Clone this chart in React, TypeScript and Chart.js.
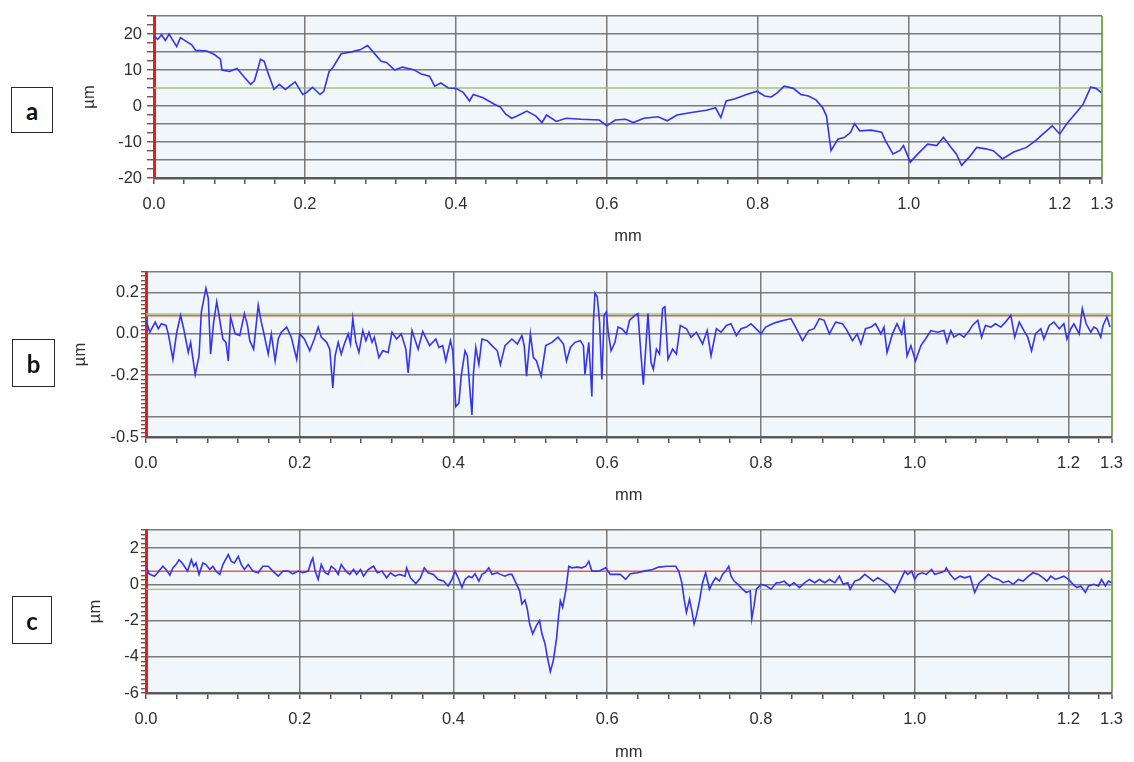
import React, { useEffect, useRef } from "react";
import { Chart, registerables } from "chart.js";

Chart.register(...registerables);

// ---------- data ----------
const X_MAX = 1.256;
const X_END_LABEL = "1.3";
const X_MINOR_STEP = 0.04;
const X_MAJOR_STEP = 0.2;

// panel a  (x mm, height µm)
const PROFILE_A: [number, number][] = [
  [0, 19.5], [0.005, 18.5], [0.01, 19.8], [0.015, 18.2], [0.02, 20.0], [0.03, 16.5], [0.035, 19.0], [0.05, 17.0],
  [0.055, 15.5], [0.07, 15.3], [0.08, 14.3], [0.088, 13.0], [0.09, 10.0], [0.1, 9.6], [0.11, 10.4], [0.12, 7.9],
  [0.128, 6.0], [0.133, 7.0], [0.138, 10.6], [0.141, 13.0], [0.146, 12.4], [0.151, 9.2], [0.159, 4.6], [0.166, 6.0],
  [0.174, 4.6], [0.187, 6.7], [0.197, 3.2], [0.202, 3.7], [0.21, 5.2], [0.22, 3.2], [0.225, 4.1], [0.232, 9.6],
  [0.237, 10.7], [0.248, 14.5], [0.263, 15.1], [0.273, 15.6], [0.283, 16.8], [0.29, 15.1], [0.301, 12.4], [0.308, 12.1],
  [0.319, 10.0], [0.329, 10.8], [0.344, 10.1], [0.354, 8.9], [0.365, 8.3], [0.372, 5.5], [0.38, 6.4], [0.39, 5.0],
  [0.4, 4.9], [0.41, 3.7], [0.418, 1.4], [0.423, 3.2], [0.436, 2.3], [0.451, 0.5], [0.459, -0.3], [0.466, -2.3],
  [0.474, -3.4], [0.481, -2.8], [0.494, -1.4], [0.506, -2.8], [0.514, -4.6], [0.52, -2.5], [0.533, -4.3], [0.546, -3.4],
  [0.566, -3.7], [0.59, -3.9], [0.6, -5.5], [0.611, -3.9], [0.625, -3.7], [0.635, -4.6], [0.649, -3.4], [0.668, -3.0],
  [0.68, -4.1], [0.693, -2.5], [0.712, -1.8], [0.732, -1.2], [0.744, -0.5], [0.751, -3.2], [0.758, 1.4], [0.77, 2.0],
  [0.785, 3.2], [0.799, 4.1], [0.809, 2.8], [0.818, 2.5], [0.826, 3.7], [0.835, 5.5], [0.847, 4.9], [0.857, 3.2],
  [0.867, 2.8], [0.877, 1.7], [0.886, -0.5], [0.891, -2.8], [0.897, -12.4], [0.906, -9.2], [0.915, -8.7], [0.923, -7.3],
  [0.928, -4.9], [0.935, -6.9], [0.95, -6.7], [0.964, -7.3], [0.969, -9.6], [0.979, -13.3], [0.988, -12.4], [0.993, -11.0],
  [1.002, -15.6], [1.012, -13.3], [1.025, -10.6], [1.037, -11.0], [1.046, -8.7], [1.056, -11.5], [1.063, -13.3], [1.07, -16.5],
  [1.08, -14.2], [1.09, -11.5], [1.102, -11.9], [1.112, -12.4], [1.124, -14.7], [1.139, -12.8], [1.156, -11.5], [1.168, -9.6],
  [1.19, -5.5], [1.2, -7.8], [1.209, -5.0], [1.222, -1.8], [1.231, 0.5], [1.241, 5.2], [1.248, 4.9], [1.255, 3.7],
];
const A_Y_MIN = -20;
const A_Y_MAX = 25;
const A_Y_MINOR = 2.5;
const A_Y_LABELS = [20, 10, 0, -10, -20];
const A_Y_GRID = [25, 20, 15, 10, 0, -5, -10, -15];
const A_GREEN = 5;

// panel b
const PROFILE_B: [number, number][] = [
  [0, 0.066], [0.005, 0.008], [0.012, 0.057], [0.016, 0.025], [0.02, 0.049], [0.026, 0.041], [0.029, 0], [0.035, -0.123],
  [0.04, 0.008], [0.045, 0.09], [0.049, 0.025], [0.055, -0.09], [0.058, -0.041], [0.064, -0.197], [0.069, -0.107], [0.072, 0.107],
  [0.078, 0.221], [0.081, 0.172], [0.084, -0.098], [0.088, 0.057], [0.092, 0.156], [0.095, 0.09], [0.1, -0.025], [0.104, -0.041],
  [0.107, -0.131], [0.11, 0.082], [0.116, 0], [0.122, -0.008], [0.128, 0.098], [0.132, 0.041], [0.135, -0.033], [0.14, -0.074],
  [0.146, 0.139], [0.15, 0.057], [0.153, 0.008], [0.159, -0.098], [0.163, 0], [0.168, -0.131], [0.172, -0.025], [0.176, 0.008],
  [0.183, 0.033], [0.189, -0.016], [0.196, -0.123], [0.2, 0], [0.206, -0.025], [0.213, -0.082], [0.219, -0.025], [0.224, 0.033],
  [0.228, -0.016], [0.235, -0.041], [0.239, -0.074], [0.243, -0.262], [0.246, -0.107], [0.25, -0.041], [0.254, -0.098], [0.258, -0.049],
  [0.263, 0], [0.266, -0.049], [0.269, 0.074], [0.273, -0.041], [0.277, -0.09], [0.282, 0.016], [0.286, -0.033], [0.29, 0.008],
  [0.294, -0.041], [0.297, -0.016], [0.303, -0.115], [0.308, -0.082], [0.315, -0.09], [0.32, 0.008], [0.326, -0.025], [0.332, 0],
  [0.338, -0.074], [0.341, -0.189], [0.346, 0.016], [0.354, -0.074], [0.36, 0.011], [0.369, -0.057], [0.377, -0.025], [0.381, -0.066],
  [0.386, -0.057], [0.39, -0.131], [0.396, -0.033], [0.399, -0.082], [0.403, -0.352], [0.407, -0.336], [0.41, -0.205], [0.415, -0.082],
  [0.418, -0.107], [0.422, -0.303], [0.424, -0.393], [0.426, -0.189], [0.429, -0.066], [0.433, -0.148], [0.437, -0.025], [0.444, -0.033],
  [0.45, -0.057], [0.457, -0.082], [0.461, -0.148], [0.467, -0.057], [0.476, -0.025], [0.483, -0.049], [0.489, -0.008], [0.492, -0.057],
  [0.495, -0.205], [0.5, 0], [0.504, -0.115], [0.508, -0.131], [0.514, -0.205], [0.52, -0.057], [0.528, -0.041], [0.536, -0.016],
  [0.543, -0.049], [0.547, -0.131], [0.552, -0.066], [0.558, -0.041], [0.565, -0.033], [0.569, -0.057], [0.571, -0.197], [0.576, -0.041],
  [0.58, -0.303], [0.582, 0.057], [0.584, 0.197], [0.587, 0.18], [0.59, 0.057], [0.593, -0.221], [0.596, 0.09], [0.599, 0.107],
  [0.601, 0.016], [0.605, -0.082], [0.61, -0.041], [0.614, 0.033], [0.619, 0.025], [0.625, 0], [0.629, 0.066], [0.636, 0.09],
  [0.64, 0.098], [0.644, -0.107], [0.647, -0.246], [0.65, -0.074], [0.653, 0.098], [0.657, -0.139], [0.66, -0.172], [0.664, -0.074],
  [0.668, -0.098], [0.672, 0.123], [0.675, 0.131], [0.679, -0.123], [0.685, -0.074], [0.69, -0.098], [0.695, 0.041], [0.703, 0.025],
  [0.709, -0.016], [0.716, 0.008], [0.724, -0.049], [0.73, 0.016], [0.735, -0.107], [0.742, 0.025], [0.748, 0.008], [0.755, 0.041],
  [0.761, 0.049], [0.768, -0.008], [0.774, 0.025], [0.781, 0.033], [0.787, 0.049], [0.796, 0.016], [0.8, 0], [0.806, 0.033],
  [0.815, 0.049], [0.821, 0.057], [0.83, 0.066], [0.839, 0.074], [0.845, 0.033], [0.854, -0.033], [0.862, 0.016], [0.869, 0.025],
  [0.876, 0.074], [0.882, 0.066], [0.889, 0], [0.897, 0.057], [0.906, 0.049], [0.912, 0.016], [0.919, -0.033], [0.925, 0],
  [0.93, -0.049], [0.936, 0.025], [0.943, 0.033], [0.949, 0.049], [0.956, 0], [0.96, 0.033], [0.964, -0.09], [0.971, 0],
  [0.977, 0.049], [0.983, 0], [0.986, 0.057], [0.99, -0.107], [0.995, -0.057], [1.001, -0.131], [1.008, -0.057], [1.014, -0.025],
  [1.021, 0.016], [1.03, 0.008], [1.038, 0.016], [1.042, -0.041], [1.047, 0.016], [1.051, -0.016], [1.058, 0], [1.064, -0.016],
  [1.071, 0.016], [1.075, 0.041], [1.082, 0.066], [1.087, -0.016], [1.092, 0.041], [1.099, 0.033], [1.105, 0.049], [1.112, 0.033],
  [1.118, 0.057], [1.125, 0.09], [1.13, -0.016], [1.136, 0.057], [1.142, 0.016], [1.147, -0.016], [1.152, -0.082], [1.157, 0],
  [1.164, 0.025], [1.168, -0.025], [1.175, 0.041], [1.181, 0.057], [1.188, 0.025], [1.194, 0.049], [1.198, -0.025], [1.203, 0.025],
  [1.207, 0.049], [1.214, 0], [1.218, 0.123], [1.223, 0.049], [1.229, 0.008], [1.233, 0.033], [1.237, 0.025], [1.242, -0.016],
  [1.245, 0.041], [1.25, 0.082], [1.254, 0.033],
];
const B_Y_MIN = -0.5;
const B_Y_MAX = 0.3;
const B_Y_MINOR = 0.02;
const B_Y_LABELS = [0.2, 0.0, -0.2, -0.5];
const B_Y_GRID = [0.3, 0.2, 0.0, -0.2, -0.4];
const B_RED = 0.088;
const B_GREEN = 0.096;

// panel c
const PROFILE_C: [number, number][] = [
  [0.001, 0.91], [0.004, 0.58], [0.011, 0.45], [0.015, 0.64], [0.022, 1.0], [0.026, 0.82], [0.031, 0.51], [0.035, 0.91],
  [0.039, 1.09], [0.043, 1.36], [0.047, 1.18], [0.05, 1.0], [0.054, 0.73], [0.059, 1.36], [0.062, 1.0], [0.065, 1.18],
  [0.069, 0.55], [0.074, 1.18], [0.078, 1.09], [0.083, 0.82], [0.087, 1.0], [0.091, 0.73], [0.096, 0.55], [0.1, 1.09],
  [0.107, 1.64], [0.111, 1.27], [0.115, 1.18], [0.12, 1.55], [0.124, 1.09], [0.128, 0.82], [0.133, 1.09], [0.139, 0.73],
  [0.146, 0.64], [0.152, 1.0], [0.159, 1.0], [0.165, 0.73], [0.172, 0.45], [0.178, 0.73], [0.185, 0.73], [0.191, 0.58],
  [0.198, 0.73], [0.204, 0.64], [0.211, 0.73], [0.215, 1.27], [0.217, 1.45], [0.22, 0.73], [0.224, 0.27], [0.228, 1.09],
  [0.233, 0.64], [0.237, 0.55], [0.241, 1.0], [0.246, 0.82], [0.25, 0.55], [0.254, 1.09], [0.26, 0.73], [0.265, 0.55],
  [0.27, 0.82], [0.274, 0.55], [0.279, 0.82], [0.283, 0.45], [0.289, 0.82], [0.296, 1.0], [0.301, 0.64], [0.307, 0.73],
  [0.313, 0.36], [0.318, 0.64], [0.324, 0.45], [0.33, 0.55], [0.337, 0.45], [0.339, 0.91], [0.344, 0.36], [0.351, 0.04],
  [0.357, 0.36], [0.362, 0.91], [0.367, 0.64], [0.374, 0.55], [0.38, 0.27], [0.387, 0.18], [0.393, -0.09], [0.398, 0.27],
  [0.402, 0.73], [0.407, 0.27], [0.411, -0.18], [0.415, 0.27], [0.42, 0.45], [0.424, 0.36], [0.428, 0.58], [0.433, 0.18],
  [0.437, 0.55], [0.441, 0.64], [0.446, 0.91], [0.45, 0.55], [0.457, 0.64], [0.461, 0.55], [0.467, 0.45], [0.472, 0.55],
  [0.476, 0.55], [0.481, 0.09], [0.486, -0.36], [0.489, -1.09], [0.493, -0.87], [0.496, -1.36], [0.499, -2.18], [0.503, -2.73],
  [0.508, -2.27], [0.512, -2.0], [0.515, -2.73], [0.519, -3.27], [0.522, -4.0], [0.526, -4.82], [0.53, -4.18], [0.534, -3.0],
  [0.537, -1.64], [0.539, -0.91], [0.542, -1.27], [0.546, -0.36], [0.55, 1.0], [0.554, 0.91], [0.561, 0.95], [0.567, 0.91],
  [0.572, 1.0], [0.576, 1.27], [0.58, 0.73], [0.589, 0.73], [0.598, 0.91], [0.604, 0.55], [0.611, 0.55], [0.617, 0.55],
  [0.624, 0.27], [0.63, 0.58], [0.639, 0.64], [0.648, 0.73], [0.659, 0.82], [0.667, 0.95], [0.678, 1.0], [0.689, 1.0],
  [0.693, 0.73], [0.697, 0.09], [0.7, -0.82], [0.703, -1.55], [0.707, -0.82], [0.71, -1.45], [0.713, -2.18], [0.716, -1.73],
  [0.72, -0.91], [0.724, 0.09], [0.728, 0.64], [0.733, -0.27], [0.737, 0.09], [0.741, 0.36], [0.746, 0.18], [0.75, 0.55],
  [0.754, 0.73], [0.758, 1.0], [0.761, 0.45], [0.765, 0.18], [0.77, 0], [0.776, -0.27], [0.781, -0.45], [0.786, -0.36],
  [0.788, -1.91], [0.791, -1.18], [0.794, -0.27], [0.8, 0], [0.807, -0.09], [0.813, -0.27], [0.82, 0.09], [0.824, 0.09],
  [0.83, 0.18], [0.837, -0.09], [0.843, 0.09], [0.85, -0.18], [0.857, 0.09], [0.863, 0.27], [0.87, 0.09], [0.876, 0.27],
  [0.883, 0.09], [0.889, 0.27], [0.896, 0.09], [0.902, 0.45], [0.907, 0], [0.913, 0.09], [0.916, -0.27], [0.922, 0.18],
  [0.928, 0.27], [0.935, 0.55], [0.941, 0.36], [0.946, 0.18], [0.952, 0.36], [0.959, 0.18], [0.965, 0], [0.97, -0.27],
  [0.974, -0.45], [0.978, -0.09], [0.983, 0.36], [0.987, 0.73], [0.991, 0.55], [0.996, 0.73], [1.0, 0.27], [1.004, 0.55],
  [1.01, 0.64], [1.015, 0.55], [1.022, 0.82], [1.026, 0.55], [1.033, 0.64], [1.039, 0.73], [1.041, 0.91], [1.046, 0.55],
  [1.052, 0.27], [1.059, 0.45], [1.065, 0.36], [1.072, 0.45], [1.078, -0.45], [1.084, 0.09], [1.089, 0.27], [1.096, 0.55],
  [1.102, 0.36], [1.109, 0.27], [1.115, 0.09], [1.122, 0.18], [1.128, 0], [1.135, 0.27], [1.141, 0.18], [1.148, 0.45],
  [1.154, 0.64], [1.161, 0.55], [1.167, 0.36], [1.172, 0.18], [1.177, 0.45], [1.183, 0.27], [1.189, 0.36], [1.194, 0.45],
  [1.2, 0.27], [1.206, 0], [1.211, -0.18], [1.216, -0.09], [1.222, -0.45], [1.226, -0.09], [1.233, 0], [1.239, -0.09],
  [1.243, 0.27], [1.248, -0.09], [1.252, 0.18], [1.256, 0.09],
];
const C_Y_MIN = -6;
const C_Y_MAX = 3;
const C_Y_MINOR = 0.25;
const C_Y_LABELS = [2, 0, -2, -4, -6];
const C_Y_GRID = [3, 2, 0, -2, -4];
const C_RED = 0.72;
const C_GREEN = -0.28;

// ---------- styling ----------
const FONT_FAMILY = "'Liberation Sans', Arial, sans-serif";
const FONT_SIZE = 16.5;
const TEXT_COLOR = "#2e2e2e";
const GRID_COLOR = "rgba(110,110,110,0.9)";
const PLOT_BG = "#f1f6fb";
const LINE_COLOR = "#3434ee";
const RED_LINE = "#e9594f";
const GREEN_LINE = "#9dc77a";
const RIGHT_BORDER = "#7fae4e";

const near = (a: number, b: number) => Math.abs(a - b) < 1e-6;

const bgPlugin = {
  id: "plotBg",
  beforeDraw(chart: any) {
    const { ctx, chartArea } = chart;
    if (!chartArea) return;
    ctx.save();
    ctx.fillStyle = PLOT_BG;
    ctx.fillRect(chartArea.left, chartArea.top, chartArea.right - chartArea.left, chartArea.bottom - chartArea.top);
    ctx.restore();
  },
};

type PanelCfg = {
  top: number;
  height: number;
  pad: { left: number; right: number; top: number; bottom: number };
  yAxisW: number;
  xAxisH: number;
  yTickPad: number;
  yTickLen: number;
  xTickPad: number;
  profile: [number, number][];
  yMin: number;
  yMax: number;
  yMinor: number;
  yLabels: number[];
  yGrid: number[];
  yDecimals: number;
  refs: { value: number; color: string }[];
};

function xTickValues(): number[] {
  const out: number[] = [];
  const n = Math.floor(X_MAX / X_MINOR_STEP + 1e-9);
  for (let i = 0; i <= n; i++) out.push(+(i * X_MINOR_STEP).toFixed(6));
  out.push(X_MAX);
  return out;
}

function yTickValues(min: number, max: number, step: number): number[] {
  const out: number[] = [];
  const n = Math.round((max - min) / step);
  for (let i = 0; i <= n; i++) out.push(+(min + i * step).toFixed(6));
  return out;
}

function isXMajor(v: number) {
  const r = v / X_MAJOR_STEP;
  return Math.abs(r - Math.round(r)) < 1e-6;
}

function Panel({ cfg }: { cfg: PanelCfg }) {
  const ref = useRef<HTMLCanvasElement | null>(null);
  useEffect(() => {
    if (!ref.current) return;
    const font = { family: FONT_FAMILY, size: FONT_SIZE };
    const datasets: any[] = [
      {
        data: cfg.profile.map(([x, y]) => ({ x, y })),
        borderColor: LINE_COLOR,
        borderWidth: 1.6,
        pointRadius: 0,
        tension: 0,
        order: 0,
      },
      ...cfg.refs.map((r) => ({
        data: [
          { x: 0, y: r.value },
          { x: X_MAX, y: r.value },
        ],
        borderColor: r.color,
        borderWidth: 1.4,
        pointRadius: 0,
        order: 1,
      })),
    ];
    const chart = new Chart(ref.current, {
      type: "line",
      data: { datasets },
      plugins: [bgPlugin],
      options: {
        animation: false,
        responsive: false,
        devicePixelRatio: 1,
        events: [],
        layout: { padding: cfg.pad },
        plugins: { legend: { display: false }, tooltip: { enabled: false }, title: { display: false } },
        scales: {
          x: {
            type: "linear",
            min: 0,
            max: X_MAX,
            afterBuildTicks: (s: any) => {
              s.ticks = xTickValues().map((v) => ({ value: v }));
            },
            afterFit: (s: any) => {
              s.height = cfg.xAxisH;
            },
            ticks: {
              autoSkip: false,
              maxRotation: 0,
              minRotation: 0,
              padding: cfg.xTickPad,
              font,
              color: TEXT_COLOR,
              callback: (v: any) => {
                const n = Number(v);
                if (near(n, X_MAX)) return X_END_LABEL;
                if (isXMajor(n)) return n.toFixed(1);
                return "";
              },
            },
            grid: {
              color: (c: any) => {
                const v = c.tick ? c.tick.value : 0;
                if (near(v, X_MAX)) return RIGHT_BORDER;
                if (near(v, 0)) return "rgba(0,0,0,0)";
                if (isXMajor(v)) return GRID_COLOR;
                return "rgba(0,0,0,0)";
              },
              lineWidth: (c: any) => {
                const v = c.tick ? c.tick.value : 0;
                return near(v, X_MAX) ? 2 : 1.5;
              },
              tickColor: "#555555",
              tickLength: 6,
              tickWidth: 1.5,
              drawTicks: true,
            },
            border: { display: true, color: "#5a5a5a", width: 2.5 },
            title: { display: true, text: "mm", font, color: TEXT_COLOR, padding: 0 },
          },
          y: {
            type: "linear",
            min: cfg.yMin,
            max: cfg.yMax,
            afterBuildTicks: (s: any) => {
              s.ticks = yTickValues(cfg.yMin, cfg.yMax, cfg.yMinor).map((v) => ({ value: v }));
            },
            afterFit: (s: any) => {
              s.width = cfg.yAxisW;
            },
            ticks: {
              autoSkip: false,
              padding: cfg.yTickPad,
              font,
              color: TEXT_COLOR,
              callback: (v: any) => {
                const n = Number(v);
                return cfg.yLabels.some((l) => near(l, n)) ? n.toFixed(cfg.yDecimals) : "";
              },
            },
            grid: {
              color: (c: any) => {
                const v = c.tick ? c.tick.value : 0;
                return cfg.yGrid.some((g) => near(g, v)) ? GRID_COLOR : "rgba(0,0,0,0)";
              },
              lineWidth: 1.5,
              tickColor: "#6b3030",
              tickLength: cfg.yTickLen,
              tickWidth: 1.2,
              drawTicks: true,
            },
            border: { display: true, color: "#dd2222", width: 3 },
            title: { display: true, text: "µm", font, color: TEXT_COLOR, padding: 0 },
          },
        },
      } as any,
    });
    return () => chart.destroy();
  }, [cfg]);
  return (
    <canvas
      ref={ref}
      width={1134}
      height={cfg.height}
      style={{ position: "absolute", left: 0, top: cfg.top, width: 1134, height: cfg.height }}
    />
  );
}

const PANEL_A: PanelCfg = {
  top: 0,
  height: 246,
  pad: { left: 80, right: 32, top: 16, bottom: 0 },
  yAxisW: 74,
  xAxisH: 68,
  yTickPad: 5,
  yTickLen: 7,
  xTickPad: 11,
  profile: PROFILE_A,
  yMin: A_Y_MIN,
  yMax: A_Y_MAX,
  yMinor: A_Y_MINOR,
  yLabels: A_Y_LABELS,
  yGrid: A_Y_GRID,
  yDecimals: 0,
  refs: [{ value: A_GREEN, color: GREEN_LINE }],
};

const PANEL_B: PanelCfg = {
  top: 250,
  height: 255,
  pad: { left: 71, right: 20, top: 22, bottom: 0 },
  yAxisW: 75,
  xAxisH: 68,
  yTickPad: 2,
  yTickLen: 5,
  xTickPad: 11,
  profile: PROFILE_B,
  yMin: B_Y_MIN,
  yMax: B_Y_MAX,
  yMinor: B_Y_MINOR,
  yLabels: B_Y_LABELS,
  yGrid: B_Y_GRID,
  yDecimals: 1,
  refs: [
    { value: B_GREEN, color: GREEN_LINE },
    { value: B_RED, color: RED_LINE },
  ],
};

const PANEL_C: PanelCfg = {
  top: 505,
  height: 257,
  pad: { left: 86, right: 22, top: 25, bottom: 0 },
  yAxisW: 60,
  xAxisH: 69,
  yTickPad: 2,
  yTickLen: 5,
  xTickPad: 11,
  profile: PROFILE_C,
  yMin: C_Y_MIN,
  yMax: C_Y_MAX,
  yMinor: C_Y_MINOR,
  yLabels: C_Y_LABELS,
  yGrid: C_Y_GRID,
  yDecimals: 0,
  refs: [
    { value: C_GREEN, color: GREEN_LINE },
    { value: C_RED, color: RED_LINE },
  ],
};

const BOXES = [
  { label: "a", left: 11, top: 87, w: 42, h: 46 },
  { label: "b", left: 12, top: 339, w: 43, h: 48 },
  { label: "c", left: 12, top: 596, w: 40, h: 48 },
];

export default function App() {
  return (
    <div style={{ position: "absolute", left: 0, top: 0, width: 1134, height: 762, background: "#ffffff", overflow: "hidden" }}>
      <Panel cfg={PANEL_A} />
      <Panel cfg={PANEL_B} />
      <Panel cfg={PANEL_C} />
      {BOXES.map((b) => (
        <div
          key={b.label}
          style={{
            position: "absolute",
            left: b.left,
            top: b.top,
            width: b.w,
            height: b.h,
            boxSizing: "border-box",
            border: "1.5px solid #2a2a2a",
            display: "flex",
            alignItems: "center",
            justifyContent: "center",
            fontFamily: "Lato, 'Open Sans', sans-serif",
            fontWeight: 700,
            fontSize: 24,
            color: "#111",
            background: "#fff",
          }}
        >
          {b.label}
        </div>
      ))}
    </div>
  );
}
